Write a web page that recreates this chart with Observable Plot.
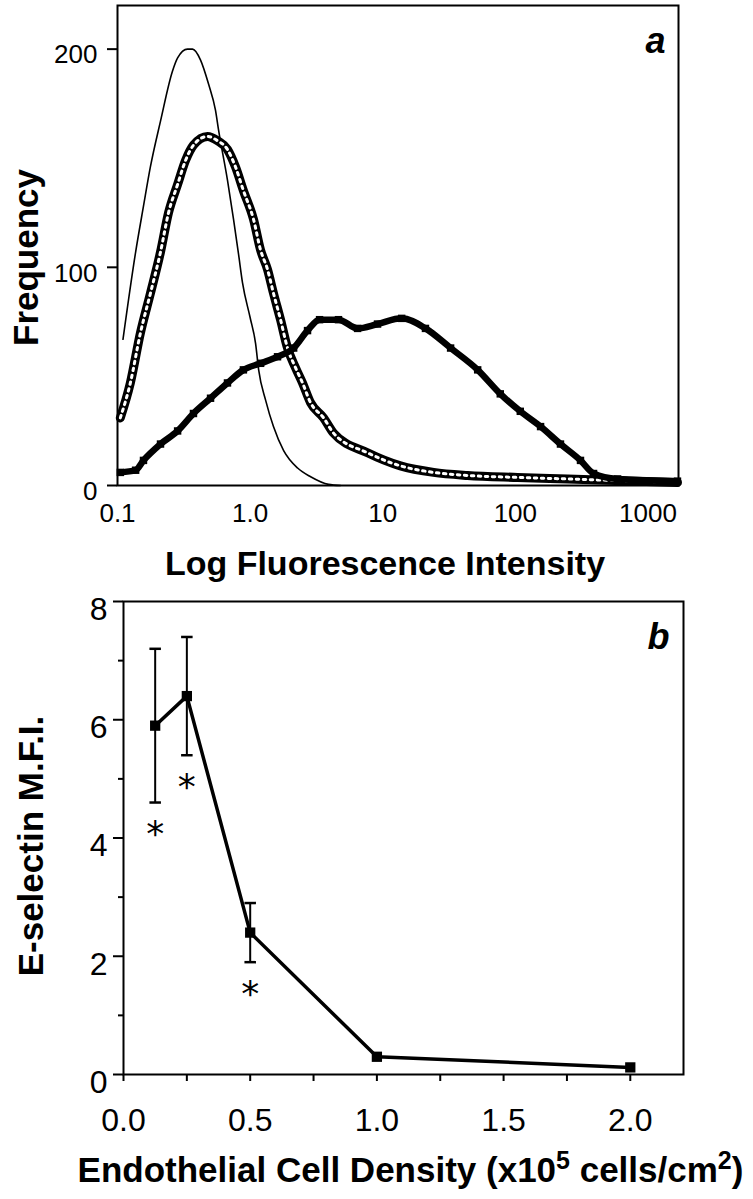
<!DOCTYPE html>
<html><head><meta charset="utf-8">
<script src="https://cdn.jsdelivr.net/npm/d3@7"></script>
<script src="https://cdn.jsdelivr.net/npm/@observablehq/plot@0.6"></script>
<style>
body{margin:0;background:#fff;}
#chart svg{display:block;}
</style>
</head><body><div id="chart"></div>
<script>
// ---------- Panel a : flow cytometry histograms ----------
const thinIntensity = [0.11,0.137,0.157,0.177,0.211,0.26,0.284,0.337,0.368,0.423,0.486,0.548,0.578,0.675,0.75,0.818,0.876,1.0,1.1,1.16,1.31,1.5,1.79,2.28,2.86,3.9,4.8];
const thinFreq      = [67,107,128,146,167,190,196,200,200,195,184,172,163,140,122,106,93,77,65,53,39,27,16,8,4,0.5,0];

const diamondIntensity = [0.105,0.125,0.149,0.177,0.211,0.2425,0.284,0.326,0.374,0.477,0.568,0.675,0.776,0.892,1.061,1.198,1.353,1.502,1.696,1.915,2.2,2.485,2.855,3.58,4.26,7.68,13.6,24.2,43.6,104,248,1670];
const diamondFreq      = [31,47,70,88,107,125,138,149,156,160,158,154,146,135,122,108,99,88,76,63,54,47,38,31,24,15,9,6,4.6,3.7,3,1.4];

const squareIntensity = [0.105,0.137,0.157,0.211,0.284,0.374,0.503,0.675,0.89,1.2,1.61,2.13,2.71,3.34,4.64,6.46,9.14,13.9,21,32.5,52,77,109,155,219,310,389,590,1670];
const squareFreq      = [6,7,11.5,19,25,33,40,47,53,56,59,63,71,76,76,72,74,76.6,72,63,53,42,34,27,19,11.5,5.5,3,2];

const xTicksA = [0.1, 1, 10, 100, 1000];
const xTickLabelsA = ["0.1", "1.0", "10", "100", "1000"];
const yTicksA = [0, 100, 200];

// ---------- Panel b : E-selectin MFI vs density ----------
const density = [0.125, 0.25, 0.5, 1.0, 2.0];
const mfi     = [5.9, 6.4, 2.4, 0.3, 0.12];
const errLow  = [4.6, 5.4, 1.9, null, null];
const errHigh = [7.2, 7.4, 2.9, null, null];
const signif  = [true, true, true, false, false];

const xMajorB = [0, 0.5, 1, 1.5, 2];
const xMinorB = [0.25, 0.75, 1.25, 1.75];
const yMajorB = [0, 2, 4, 6, 8];
const yMinorB = [1, 3, 5, 7];

const titleA_x = "Log Fluorescence Intensity";
const titleA_y = "Frequency";
const titleB_y = "E-selectin M.F.I.";
const titleB_xParts = ["Endothelial Cell Density (x10", "5", " cells/cm", "2", ")"];

// build tables
const zip = (xs, ys) => xs.map((x, i) => ({x, y: ys[i]}));
const thin = zip(thinIntensity, thinFreq);
const diam = zip(diamondIntensity, diamondFreq);
const sq = zip(squareIntensity, squareFreq);
const pts = density.map((d, i) => ({x: d, y: mfi[i], lo: errLow[i], hi: errHigh[i], s: signif[i]}));
const errPts = pts.filter(d => d.lo != null);
const starPts = pts.filter(d => d.s);

const FONT = "Liberation Sans, Arial, Helvetica, sans-serif";

const capSymbol = {
  draw(ctx, size) {
    const w = Math.sqrt(size) / 2;
    ctx.moveTo(-w, 0); ctx.lineTo(w, 0);
  }
};

const plotA = Plot.plot({
  width: 753, height: 580,
  marginLeft: 117, marginRight: 75, marginTop: 5, marginBottom: 95,
  style: {fontFamily: FONT, fontSize: "26px", color: "black", background: "white", overflow: "visible"},
  x: {type: "log", domain: [0.1, 1700], axis: null},
  y: {domain: [0, 220], axis: null},
  marks: [
    Plot.line(thin, {x: "x", y: "y", stroke: "black", strokeWidth: 1.6, curve: "monotone-x"}),
    Plot.line(diam, {x: "x", y: "y", stroke: "black", strokeWidth: 9, curve: "monotone-x", strokeLinejoin: "round"}),
    Plot.line(diam, {x: "x", y: "y", stroke: "white", strokeWidth: 3, curve: "monotone-x", strokeDasharray: "2.5,4.5"}),
    Plot.line(sq, {x: "x", y: "y", stroke: "black", strokeWidth: 6.5, curve: "monotone-x", strokeLinejoin: "round"}),
    Plot.dot(sq, {x: "x", y: "y", symbol: "square", r: 4.2, fill: "black"}),
    Plot.frame({stroke: "black", strokeWidth: 2}),
    Plot.axisY({ticks: yTicksA, tickSize: 10, strokeWidth: 2, tickFormat: () => "", label: null}),
    Plot.axisY({ticks: yTicksA, tickSize: 0, tickPadding: 20, dy: 6, label: null}),
    Plot.axisX({ticks: xTicksA, tickSize: 0, tickPadding: 18, tickFormat: d => xTickLabelsA[xTicksA.indexOf(d)], label: null}),
    Plot.text([titleA_y], {text: d => d, frameAnchor: "left", rotate: -90, dx: -91, dy: 12, fontSize: 35, fontWeight: "bold", textAnchor: "middle", lineAnchor: "middle"}),
    Plot.text([titleA_x], {text: d => d, frameAnchor: "bottom", dx: -13, dy: 79, fontSize: 34, fontWeight: "bold", textAnchor: "middle", lineAnchor: "middle"}),
    Plot.text(["a"], {text: d => d, frameAnchor: "top-right", dx: -23, dy: 47, fontSize: 36, fontWeight: "bold", fontStyle: "italic", textAnchor: "middle", lineAnchor: "bottom"})
  ]
});

const plotB = Plot.plot({
  width: 753, height: 619,
  marginLeft: 123, marginRight: 70, marginTop: 21, marginBottom: 125,
  style: {fontFamily: FONT, fontSize: "32px", color: "black", background: "white", overflow: "visible"},
  x: {domain: [0, 2.21], axis: null},
  y: {domain: [0, 8], axis: null},
  marks: [
    Plot.ruleX(errPts, {x: "x", y1: "lo", y2: "hi", stroke: "black", strokeWidth: 2}),
    Plot.dot(errPts, {x: "x", y: "lo", symbol: capSymbol, r: 6.5, stroke: "black", strokeWidth: 2.5}),
    Plot.dot(errPts, {x: "x", y: "hi", symbol: capSymbol, r: 6.5, stroke: "black", strokeWidth: 2.5}),
    Plot.line(pts, {x: "x", y: "y", stroke: "black", strokeWidth: 3.5}),
    Plot.dot(pts, {x: "x", y: "y", symbol: "square", r: 5.8, fill: "black"}),
    Plot.text(starPts, {x: "x", y: "lo", text: () => "*", dy: 32, fill: "black", fontSize: 36, fontFamily: "DejaVu Sans", textAnchor: "middle", lineAnchor: "middle"}),
    Plot.frame({stroke: "black", strokeWidth: 2}),
    Plot.axisY({ticks: yMajorB, tickSize: 10, strokeWidth: 2, tickFormat: () => "", label: null}),
    Plot.axisY({ticks: yMajorB, tickSize: 0, tickPadding: 16, dy: 8, label: null}),
    Plot.axisY({ticks: yMinorB, tickSize: 5, strokeWidth: 2, tickFormat: () => "", label: null}),
    Plot.axisX({ticks: xMajorB, tickSize: 7, tickPadding: 27, strokeWidth: 2, tickFormat: d3.format(".1f"), label: null}),
    Plot.axisX({ticks: xMinorB, tickSize: 7, strokeWidth: 2, tickFormat: () => "", label: null}),
    Plot.text([titleB_y], {text: d => d, frameAnchor: "left", rotate: -90, dx: -92, dy: 8, fontSize: 35, fontWeight: "bold", textAnchor: "middle", lineAnchor: "middle"}),
    Plot.text([titleB_xParts.join("")], {text: d => d, frameAnchor: "bottom", dx: 7, dy: 96, fontSize: 35, fontWeight: "bold", textAnchor: "middle", lineAnchor: "middle"}),
    Plot.text(["b"], {text: d => d, frameAnchor: "top-right", dx: -25, dy: 47, fontSize: 36, fontWeight: "bold", fontStyle: "italic", textAnchor: "middle", lineAnchor: "bottom"})
  ]
});

const chart = document.getElementById("chart");
chart.appendChild(plotA);
chart.appendChild(plotB);

// superscripts in the panel b x title
d3.select(plotB).selectAll("text").filter(function() { return this.textContent === titleB_xParts.join(""); })
  .each(function() {
    const t = d3.select(this);
    t.text("");
    titleB_xParts.forEach((p, i) => {
      const sup = i === 1 || i === 3;
      const ts = t.append("tspan").text(p);
      if (sup) ts.attr("dy", "-13").attr("font-size", "25");
      else if (i > 0) ts.attr("dy", "13");
    });
  });
</script>
</body></html>
